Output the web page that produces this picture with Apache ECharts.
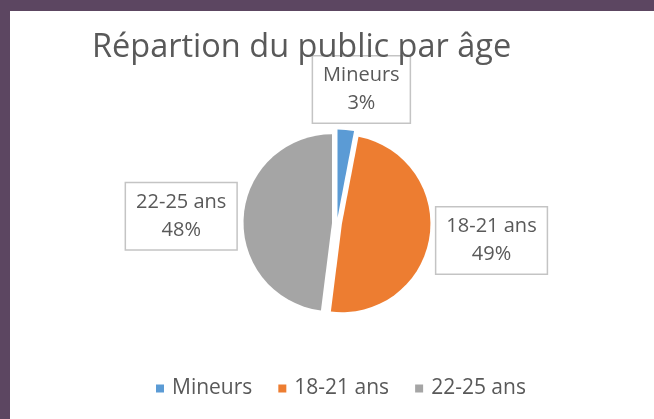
<!DOCTYPE html>
<html>
<head>
<meta charset="utf-8">
<script src="https://cdn.jsdelivr.net/npm/echarts@6/dist/echarts.min.js"></script>
<style>
  html, body { margin: 0; padding: 0; background: #5c4661; }
  #wrap { position: absolute; left: 10px; top: 11px; width: 644px; height: 408px; background: #fff; }
  #chart { width: 644px; height: 408px; }
</style>
</head>
<body>
<div id="wrap"><div id="chart"></div></div>
<script>
// données
const titre = "Répartion du public par âge";
const categories = ["Mineurs", "18-21 ans", "22-25 ans"];
const valeurs = [3, 49, 48];
const couleurs = ["#5b9bd5", "#ed7d31", "#a5a5a5"];

// réglage des bulles : longueur des traits (cachés) et alignement
const traits = [
  { length: 40.6, length2: 55, align: "right" },
  { length: 18.9, length2: 38.5, align: "center" },
  { length: 15, length2: 42.5, align: "center" }
];

const myChart = echarts.init(document.getElementById("chart"));

const texte = { fontFamily: "Open Sans", fontSize: 20, lineHeight: 28, color: "#595959", align: "center" };

const option = {
  color: couleurs,
  animation: false,
  title: {
    text: titre,
    left: 77,
    top: 15,
    textStyle: {
      fontFamily: "Open Sans",
      fontSize: 32.5,
      fontWeight: "normal",
      color: "#595959"
    }
  },
  legend: {
    data: categories,
    left: 141,
    top: 362,
    icon: "rect",
    itemWidth: 8,
    itemHeight: 8,
    itemGap: 26,
    textStyle: {
      fontFamily: "Open Sans",
      fontSize: 21,
      color: "#595959",
      padding: [0, 0, 0, 3]
    }
  },
  series: [
    {
      type: "pie",
      center: [327, 212],
      radius: 88.5,
      startAngle: 90,
      clockwise: true,
      selectedMode: "multiple",
      selectedOffset: 5,
      emphasis: { disabled: true },
      label: {
        show: true,
        position: "outside",
        formatter: "{c|{b}}\n{c|{d}%}",
        rich: { c: texte },
        backgroundColor: "#fff",
        borderColor: "#c4c4c4",
        borderWidth: 1.5,
        padding: [5, 10]
      },
      labelLine: { show: false },
      labelLayout: function (params) {
        return { align: traits[params.dataIndex].align, verticalAlign: "middle" };
      },
      data: categories.map((c, i) => ({
        name: c,
        value: valeurs[i],
        selected: true,
        labelLine: { show: false, length: traits[i].length, length2: traits[i].length2 }
      }))
    }
  ]
};
myChart.setOption(option);
</script>
</body>
</html>
